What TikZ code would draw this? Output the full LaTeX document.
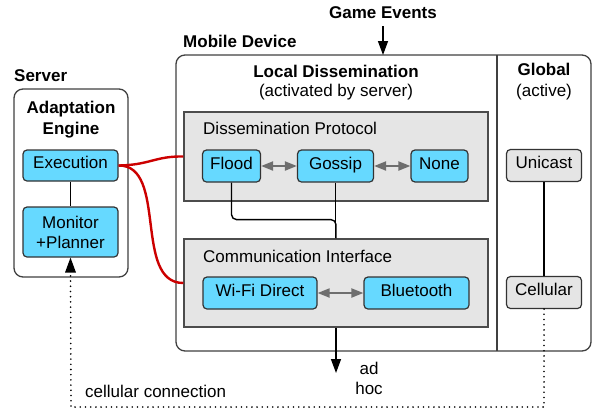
\documentclass[tikz,border=0pt]{standalone}
\usepackage{fontspec}
\setmainfont{Liberation Sans}
\usetikzlibrary{arrows.meta,calc}
\definecolor{cyanfill}{RGB}{102,217,255}
\definecolor{redline}{RGB}{204,0,0}
\definecolor{arrgray}{RGB}{110,110,110}
\begin{document}
\begin{tikzpicture}[x=1pt,y=-1pt,
  txt/.style={font=\fontsize{17}{21}\selectfont, inner sep=0pt},
  btxt/.style={font=\fontsize{17}{21}\selectfont\bfseries, inner sep=0pt},
  bigbox/.style={draw=black!75, line width=1.3pt, rounded corners=9pt, fill=white, inner sep=0pt},
  panel/.style={draw=black!70, line width=1.3pt, fill=gray!20, inner sep=0pt},
  cnode/.style={draw=black!80, line width=1.2pt, fill=cyanfill, rounded corners=4pt, inner sep=0pt, align=center, font=\fontsize{17}{20}\selectfont},
  oneline/.style={text height=12pt, text depth=6pt},
  gnode/.style={cnode, fill=gray!20},
  link/.style={draw=black, line width=1.4pt},
  thinlink/.style={draw=black, line width=1.1pt},
  garrow/.style={draw=arrgray, line width=2pt, {Triangle[length=12pt,width=9pt]}-{Triangle[length=12pt,width=9pt]}},
  redc/.style={draw=redline, line width=2.4pt},
  tip/.style={-{Triangle[length=14pt,width=10pt]}},
  dotline/.style={draw=black, line width=1.8pt, line cap=round, dash pattern=on 0pt off 5.2pt}
]
\useasboundingbox (0,0) rectangle (596,410);

% Server
\node[btxt, anchor=base west] (serverlbl) at (14,81) {Server};
\node[bigbox, minimum width=114pt, minimum height=188pt] (server) at (71,183) {};
\node[btxt, anchor=base] (ae1) at (71,113) {Adaptation};
\node[btxt, anchor=base] (ae2) at (71,134) {Engine};
\node[cnode, oneline, minimum width=95pt, minimum height=31pt] (exec) at (70.5,165.5) {Execution};
\node[cnode, minimum width=95pt, minimum height=50pt] (mon) at (70.5,232) {Monitor\\+Planner};
\draw[link] (exec) -- (mon);

% Mobile device
\node[btxt, anchor=base west] (mdlbl) at (183,47) {Mobile Device};
\node[btxt, anchor=base] (ge) at (383,18) {Game Events};
\node[bigbox, minimum width=415pt, minimum height=296pt] (mobile) at (383.5,203) {};
\coordinate (divtop) at (497,55);
\coordinate (divbot) at (497,351);
\draw[draw=black!75, line width=1.3pt] (divtop) -- (divbot);
\coordinate (gestart) at (383,26);
\draw[link, tip] (gestart) -- (383,55);

\node[btxt, anchor=base] (ld1) at (336,77) {Local Dissemination};
\node[txt, anchor=base] (ld2) at (336,96) {(activated by server)};

\node[panel, minimum width=304pt, minimum height=89pt] (dp) at (336,156.5) {};
\node[txt, anchor=base west] (dplbl) at (203,134) {Dissemination Protocol};
\node[cnode, oneline, minimum width=58pt, minimum height=32pt] (flood) at (231.5,166) {Flood};
\node[cnode, oneline, minimum width=76pt, minimum height=32pt] (gossip) at (335.5,166) {Gossip};
\node[cnode, oneline, minimum width=57pt, minimum height=32pt] (none) at (439.5,166) {None};
\draw[garrow] (flood) -- (gossip);
\draw[garrow] (gossip) -- (none);

\node[panel, minimum width=304pt, minimum height=88pt] (ci) at (336,283) {};
\node[txt, anchor=base west] (cilbl) at (203,262) {Communication Interface};
\node[cnode, oneline, minimum width=114pt, minimum height=32pt] (wifi) at (260,293) {Wi-Fi Direct};
\node[cnode, oneline, minimum width=105pt, minimum height=32pt] (bt) at (416.5,293) {Bluetooth};
\draw[garrow] (wifi) -- (bt);

\draw[link, rounded corners=5pt] (flood.south) -- ++(0,37) -| (ci.north);
\draw[link] (gossip.south) -- (gossip.south |- ci.north);

\coordinate (adhocend) at (336,373);
\draw[link, tip] (ci.south) -- (adhocend);
\node[txt, anchor=base] (ad1) at (369,374) {ad};
\node[txt, anchor=base] (ad2) at (369,394) {hoc};

% Global
\node[btxt, anchor=base] (gl1) at (544,75) {Global};
\node[txt, anchor=base] (gl2) at (544,96) {(active)};
\node[gnode, oneline, minimum width=75pt, minimum height=32pt] (uni) at (544,165.5) {Unicast};
\node[gnode, oneline, minimum width=75pt, minimum height=32pt] (cell) at (544,292.5) {Cellular};
\draw[thinlink] (uni) -- (cell);

% cellular connection
\coordinate (cc1) at (544,407);
\coordinate (cc2) at (71,407);
\draw[dotline] (cell.south) -- (cc1) -- (cc2) -- ($(mon.south)+(0,14)$);
\draw[draw=none, fill=black] (mon.south) -- ++(-5.5,15) -- ++(11,0) -- cycle;
\node[txt, anchor=base west] (cclbl) at (85,397) {cellular connection};

% red curves
\draw[redc] (exec.east) .. controls (150,165) and (155,156) .. (dp.west);
\draw[redc] (exec.east) .. controls (168,165) and (133,283) .. (ci.west);
\end{tikzpicture}
\end{document}
